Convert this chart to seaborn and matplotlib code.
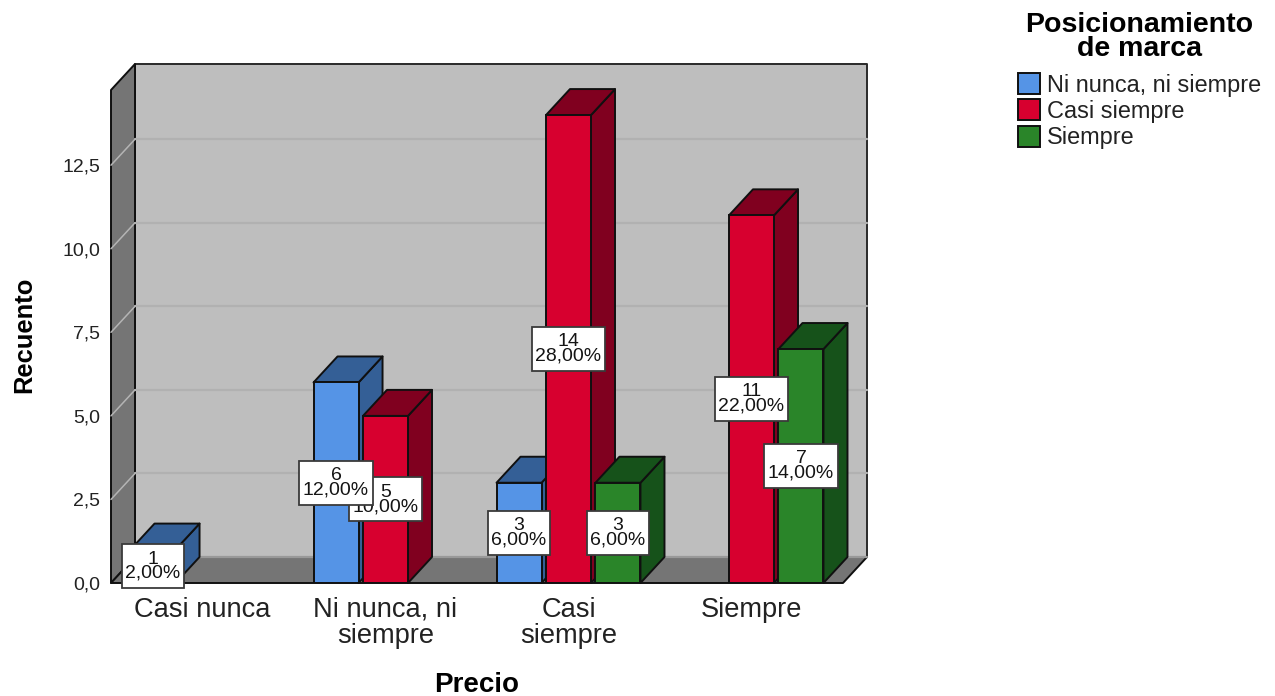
import matplotlib
matplotlib.use("Agg")
import matplotlib.pyplot as plt
from matplotlib.patches import Polygon, Rectangle
from matplotlib.transforms import IdentityTransform
import pandas as pd
import seaborn as sns

# Chart data
precio_order = ["Casi nunca", "Ni nunca, ni\nsiempre", "Casi\nsiempre", "Siempre"]
marca_order = ["Ni nunca, ni siempre", "Casi siempre", "Siempre"]
precio = ["Casi nunca", "Ni nunca, ni\nsiempre", "Ni nunca, ni\nsiempre",
          "Casi\nsiempre", "Casi\nsiempre", "Casi\nsiempre", "Siempre", "Siempre"]
marca = ["Ni nunca, ni siempre", "Ni nunca, ni siempre", "Casi siempre",
         "Ni nunca, ni siempre", "Casi siempre", "Siempre", "Casi siempre", "Siempre"]
recuento = [1, 6, 5, 3, 14, 3, 11, 7]
porcentaje = ["2,00%", "12,00%", "10,00%", "6,00%", "28,00%", "6,00%", "22,00%", "14,00%"]
y_ticks = [0, 2.5, 5, 7.5, 10, 12.5]
y_tick_labels = ["0,0", "2,5", "5,0", "7,5", "10,0", "12,5"]

front_colors = {"Ni nunca, ni siempre": "#5594E6", "Casi siempre": "#D7002F", "Siempre": "#2A8529"}
dark_colors = {"Ni nunca, ni siempre": "#345F96", "Casi siempre": "#80001F", "Siempre": "#16521A"}

sns.set_theme(style="white")
plt.rcParams["font.family"] = ["Liberation Sans", "DejaVu Sans"]

W, H = 1275, 696
fig = plt.figure(figsize=(W / 100, H / 100), dpi=100, facecolor="white")
ax = fig.add_axes([111 / W, 1 - 583 / H, 732 / W, 493 / H])
ax.patch.set_visible(False)

df = pd.DataFrame({"Precio": precio, "Marca": marca, "Recuento": recuento, "Etiqueta": porcentaje})
sns.barplot(data=df, x="Precio", y="Recuento", hue="Marca", order=precio_order,
            hue_order=marca_order, palette=front_colors, saturation=1, width=0.811, gap=0.09,
            edgecolor="#101010", linewidth=1.4, ax=ax, legend=True, zorder=5)

ax.set_xlim(-0.5, 3.5)
ax.set_ylim(0, 14.75)
for side in ax.spines.values():
    side.set_visible(False)

# Oblique offset of the pseudo-3D depth, in data units
depth_x = 24 / 183
depth_y = 26 / 33.43
x0, x1 = ax.get_xlim()
y_top = ax.get_ylim()[1]
EDGE = "#101010"


def face(points, color, z, edge=EDGE, lw=1.4):
    ax.add_patch(Polygon(points, closed=True, facecolor=color, edgecolor=edge,
                         linewidth=lw, zorder=z, clip_on=False, joinstyle="round"))


# Walls and floor
face([(x0 + depth_x, depth_y), (x1 + depth_x, depth_y), (x1 + depth_x, y_top + depth_y),
      (x0 + depth_x, y_top + depth_y)], "#BEBEBE", 1, edge="#2A2A2A")
face([(x0, 0), (x0 + depth_x, depth_y), (x0 + depth_x, y_top + depth_y), (x0, y_top)], "#757575", 1)
face([(x0, 0), (x1, 0), (x1 + depth_x, depth_y), (x0 + depth_x, depth_y)], "#757575", 1)

for v in y_ticks[1:]:
    ax.plot([x0 + depth_x, x1 + depth_x], [v + depth_y] * 2, color="#B1B1B1", lw=1.6,
            zorder=1.5, clip_on=False)
    ax.plot([x0, x0 + depth_x], [v, v + depth_y], color="#B4B4B4", lw=1.1,
            zorder=1.5, clip_on=False)
ax.plot([x0 + depth_x, x1 + depth_x], [depth_y] * 2, color="#999999", lw=1.6, zorder=1.6, clip_on=False)

# Side and top faces of each bar, stacked left to right
bars = []
for hue_name, container in zip(marca_order, ax.containers):
    rows = df[df["Marca"] == hue_name]
    for bar, row in zip(container, rows.itertuples()):
        bars.append((bar, row))
bars.sort(key=lambda item: item[0].get_x())

for i, (bar, row) in enumerate(bars):
    left, right = bar.get_x(), bar.get_x() + bar.get_width()
    top = bar.get_height()
    z = 3 + i
    dark = dark_colors[row.Marca]
    face([(right, 0), (right + depth_x, depth_y), (right + depth_x, top + depth_y), (right, top)], dark, z)
    face([(left, top), (right, top), (right + depth_x, top + depth_y), (left + depth_x, top + depth_y)], dark, z)
    bar.set_zorder(z + 0.5)

# Value labels sit on the centre of each front face
fig.canvas.draw()
renderer = fig.canvas.get_renderer()
BOX_H = 44
for i, (bar, row) in enumerate(sorted(bars, key=lambda item: -marca_order.index(item[1].Marca))):
    cx = bar.get_x() + bar.get_width() / 2
    cy = bar.get_height() / 2
    z = 30 + 2 * i
    label = ax.text(cx, cy, f"{row.Recuento}\n{row.Etiqueta}", ha="center", va="center",
                    fontsize=14, color="#141414", linespacing=0.8, zorder=z + 1, clip_on=False)
    extent = label.get_window_extent(renderer)
    px, py = ax.transData.transform((cx, cy))
    box_w = extent.width + 7
    ax.add_patch(Rectangle((px - box_w / 2, py - BOX_H / 2), box_w, BOX_H, transform=IdentityTransform(),
                           facecolor="white", edgecolor="#3A3A3A", linewidth=1.3, zorder=z, clip_on=False))

# Axes text
ax.set_yticks(y_ticks, y_tick_labels)
ax.tick_params(axis="y", length=0, pad=8, labelsize=14, labelcolor="#222222")
ax.tick_params(axis="x", length=0, pad=10, labelsize=19.6, labelcolor="#222222")
for tick in ax.get_xticklabels():
    tick.set_linespacing(1.0)

ax.set_xlabel("Precio", fontsize=20, fontweight="bold", color="black", va="center")
ax.xaxis.set_label_coords(0.5, -102 / 493)
ax.set_ylabel("Recuento", fontsize=18.4, fontweight="bold", color="black", va="center")
ax.yaxis.set_label_coords(-87 / 732, 248 / 493)

# Legend in the upper right corner, with its heading centred above the entries
handles, labels = ax.get_legend_handles_labels()
legend = ax.legend(handles, labels, loc="upper left",
                   bbox_to_anchor=(1018 / W, 1 - 73 / H), bbox_transform=fig.transFigure,
                   frameon=False, fontsize=16.9, borderpad=0, borderaxespad=0,
                   handlelength=0.95, handleheight=1.0, handletextpad=0.27, labelspacing=0.12)
legend.set_zorder(60)
for text in legend.get_texts():
    text.set_color("#222222")
fig.text(1139.5 / W, 1 - 37 / H, "Posicionamiento\nde marca", ha="center", va="center",
         fontsize=20.5, fontweight="bold", color="black", linespacing=0.95)

fig.savefig("out.png", dpi=100, facecolor="white")
